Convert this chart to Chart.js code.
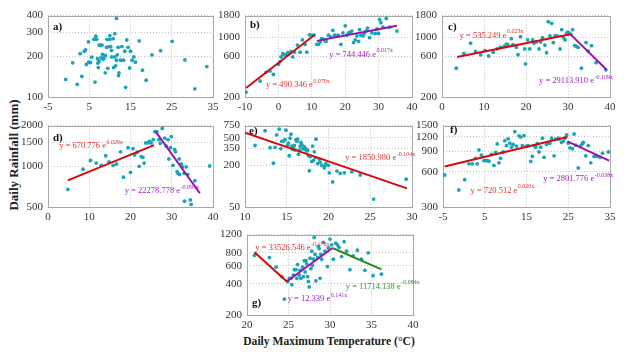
<!DOCTYPE html>
<html><head><meta charset="utf-8">
<script src="https://cdn.jsdelivr.net/npm/chart.js@4.4.1/dist/chart.umd.min.js"></script>
<style>
html,body{margin:0;padding:0;background:#fff;}
#wrap{position:relative;width:628px;height:356px;overflow:hidden;background:#fff;}
#wrap canvas{position:absolute;}
.ttl{position:absolute;font-family:"Liberation Serif","Times New Roman",serif;font-weight:bold;color:#222;white-space:nowrap;}
#ytitle{left:14px;top:155px;font-size:13px;transform:translate(-50%,-50%) rotate(-90deg);}
#xtitle{left:329px;top:341px;font-size:11.6px;transform:translate(-50%,-50%);}
</style></head><body>
<div id="wrap">
<div class="ttl" id="ytitle">Daily Rainfall (mm)</div>
<div class="ttl" id="xtitle">Daily Maximum Temperature (°C)</div>
</div>
<script>
// ---------- DATA ----------
const aTemp=[-0.7,2.1,1.0,3.2,2.8,3.8,4.1,4.3,4.9,4.8,5.3,5.6,6.1,6.4,6.8,6.6,7.0,7.1,7.4,7.2,6.4,7.7,7.4,8.1,7.9,8.2,8.7,8.4,8.9,8.9,9.3,9.2,9.6,9.5,10.0,10.0,10.2,10.4,10.4,10.8,11.2,10.9,11.2,11.6,11.8,12.0,12.2,12.1,11.4,12.6,12.9,13.3,13.6,13.8,14.1,14.4,14.8,15.0,15.4,15.8,16.2,17.1,17.9,18.8,20.2,22.3,25.1,28.2,30.6,33.5,11.6];
const aRain=[135,124,179,142,209,218,223,174,181,256,180,197,267,267,267,282,192,178,184,165,129,242,242,242,195,207,198,190,203,151,267,233,235,163,267,284,236,221,198,270,294,165,198,187,205,233,151,144,170,187,236,187,218,118,264,233,164,218,187,198,181,260,158,133,205,220,258,188,115,168,381];

const bTemp=[-9.7,-5.5,-3.7,-2.5,-1.5,0,0.5,0.8,1.3,1.7,2.3,2.8,3.3,3.8,4.3,4.8,5.7,6.5,7.2,8.0,8.5,9.3,10.0,10.7,11.5,12,12.5,13,13.5,14,14.3,15,15.7,16.3,16.8,17.3,17.9,18.7,19.3,20,20.5,21,21.5,22,22.5,23,23.5,24,24.3,24.7,25.3,25.7,26.2,26.7,27.3,28,29,29.5,30,30.3,30.7,31.3,32.3,33.3,35.5];
const bRain=[228,308,389,403,367,483,518,590,643,626,626,660,650,683,590,670,812,670,933,830,670,1071,1060,1065,830,830,885,966,950,908,900,1060,1010,1209,1060,1040,1060,830,1128,1365,1060,1128,1150,1185,870,933,1040,900,1230,1060,1040,1110,1185,1286,991,1128,1110,1255,1110,1623,1489,1318,1665,1318,1185];

const cTemp=[3.4,5.2,6.8,8.0,9.2,10.2,11.1,12.2,13.1,13.9,14.8,15.3,15.7,16.5,16.9,17.7,18.1,18.7,19.7,19.9,20.4,20.9,21.6,21.9,22.5,23.1,23.5,23.9,24.5,24.9,25.3,25.7,26.1,26.5,26.9,27.4,28.1,28.5,28.9,29.3,29.7,29.9,30.3,30.7,31.1,31.6,32,32.4,33.2,34.3,34.8,35.6,36.7,39];
const cRain=[436,650,855,683,626,700,605,670,732,764,785,834,820,966,820,764,626,1017,732,488,933,732,933,855,885,732,885,991,812,660,1528,1040,1462,870,1040,1040,732,1230,991,933,1110,1150,1128,1085,1230,800,785,764,436,870,690,800,505,417];

const dTemp=[4.8,8.5,10.3,11.7,12.9,14,14.8,15.8,16.6,17.6,18.3,19.4,20,20.6,21,21.6,22.1,22.6,23,23.3,23.7,24.2,24.6,25,25.5,25.9,26.4,26.9,27.2,27.7,28.3,28.7,29.1,29.3,29.7,29.9,30.3,30.7,30.9,31.3,31.5,31.8,31.9,32.3,32.6,33,33.1,33.5,33.9,34.5,34.7,35.6,39.2];
const dRain=[675,953,1104,1057,1016,1197,1080,1016,1040,1279,830,1371,902,1350,1210,1270,1000,1180,1165,1057,1490,1490,1530,1490,1573,1803,1803,1573,1480,1905,1617,1410,1573,1134,1371,1660,1016,1336,1279,912,887,1134,870,1040,989,887,552,989,870,564,522,782,1005];

const eTemp=[11.2,12.4,13,13.4,13.6,13.8,14.1,14.3,14.4,14.6,14.8,14.9,15.1,15.2,15.3,15.4,15.5,15.6,15.7,15.8,15.9,16,16.1,16.2,16.3,16.4,16.5,16.6,16.7,16.8,16.9,17.1,17.2,17.3,17.4,17.5,17.6,17.8,17.7,18,18.1,18.2,18.3,18.4,18.5,18.7,18.9,19,19.2,19.5,19.6,19.7,20,20.1,20.5,21,21.4,21.9,22.8,23.8,25.4,29.3];
const eRain=[387,632,359,215,363,550,667,348,445,448,469,645,391,420,275,494,562,380,340,359,387,332,469,445,478,290,332,380,430,400,348,371,340,348,323,330,275,267,167,227,380,234,313,257,478,211,247,222,200,184,200,211,200,156,115,165,153,156,161,145,65,126];

const fTemp=[-4.6,-1.2,0.2,1.2,2,2.8,3.2,3.6,4.2,4.8,5.2,5.6,6,6.6,7.2,7.6,8,8.4,8.8,9.4,9.8,10.2,10.6,11,11.4,11.8,12.2,12.6,13.2,13.6,14,14.4,15,15.4,16,16.4,16.8,17.2,17.6,18,18.4,18.8,19.2,19.8,20.2,20.6,21,21.6,22,22.6,22.8,23.4,23.8,24.2,24.6,25,25.4,26,26.4,26.8,27.4,28,28.4,28.6,29.2,29.8,30.4,31.2,31.8,32.6,33.2,34.6];
const fRain=[565,420,514,704,704,785,704,927,835,751,751,751,742,850,683,881,1044,719,785,890,1113,1011,1156,1060,980,1033,1331,1000,1225,1196,1011,1230,1000,1011,738,816,1011,980,1050,890,980,1170,801,1033,1077,1060,1170,826,1150,1170,1150,1077,1100,1170,1246,1060,967,950,1270,1019,650,1011,1050,1077,826,1011,719,816,816,801,870,890];

const gTemp=[20.9,22.7,23.5,24.2,24.5,24.9,25.1,25.3,25.4,25.6,25.7,25.9,26,26.1,26.3,26.4,26.5,26.7,26.8,26.9,27,27.1,27.2,27.3,27.4,27.5,27.6,27.7,27.8,27.9,28,28.1,28.2,28.3,28.5,28.6,28.7,28.8,28.9,29,29.2,29.4,29.7,29.8,30,30.2,30.4,30.7,30.9,31.1,31.4,31.7,32,32.4,32.8,33.3,33.8,34.2,34.6,35.2,36.2];
const gRain=[756,719,581,470,285,422,453,453,393,486,549,549,453,615,486,541,453,581,470,670,522,670,624,470,422,374,709,561,829,602,694,1126,773,428,719,922,877,453,773,694,1011,829,589,890,1087,956,694,990,956,903,735,1026,829,549,745,847,694,541,800,480,497];

// fitted trend line end points (temperature, rainfall)
const bFitRedT=[-9.7,10.8],   bFitRedR=[255,1065];
const bFitPurT=[11.5,35.5],   bFitPurR=[910,1365];
const cFitRedT=[3.6,30.6],    cFitRedR=[590,1085];
const cFitPurT=[30.6,39.2],   cFitPurR=[1085,417];
const dFitRedT=[4.8,25.7],    dFitRedR=[787,1433];
const dFitPurT=[26.1,36.8],   dFitPurR=[1803,632];
const eFitRedT=[10,29.4],     eFitRedR=[593,93];
const fFitRedT=[-4.6,24.8],   fFitRedR=[669,1196];
const fFitPurT=[24.8,34.8],   fFitPurR=[1099,751];
const gFitRedT=[20.9,24.8],   gFitRedR=[811,422];
const gFitPurT=[24.8,30.3],   gFitPurR=[422,890];
const gFitGrnT=[30.3,36.2],   gFitGrnR=[890,553];

// tick labels
const xTicksA=[-5,5,15,25,35], yTicksA=[100,200,300,400];
const xTicksB=[-10,0,10,20,30,40], yTicksB=[200,600,1000,1800];
const xTicksC=[0,10,20,30,40], yTicksC=[200,600,1000,1800];
const xTicksD=[0,10,20,30,40], yTicksD=[500,1000,1500,2000];
const xTicksE=[10,15,20,25,30], yTicksE=[50,200,350,500,750];
const xTicksF=[-5,5,15,25,35], yTicksF=[300,600,900,1200,1500];
const xTicksG=[20,25,30,35,40], yTicksG=[200,400,600,800,1200];

// equation texts
const eqText={
 bR:["y = 490.346 e","0.070x"], bP:["y = 744.446 e","0.017x"],
 cR:["y = 535.249 e","0.023x"], cP:["y = 29113.910 e","-0.109x"],
 dR:["y = 670.776 e","0.029x"], dP:["y = 22278.778 e","-0.097x"],
 eR:["y = 1850.980 e","-0.104x"],
 fR:["y = 720.512 e","0.020x"], fP:["y = 2801.776 e","-0.038x"],
 gR:["y = 33526.546 e","-0.176x"], gP:["y = 12.339 e","0.141x"], gG:["y = 11714.138 e","-0.084x"]
};

// ---------- STYLE ----------
const TEAL='#19a5b6', RED='#d60a0a', PUR='#9a0fb0', GRN='#2a8a1e';
const TRED='#e0302c', TPUR='#a020c0', TGRN='#2f8f2f';
const SERIF="'Liberation Serif', 'Times New Roman', serif";
Chart.defaults.font.family=SERIF;

const panels=[
 {lab:'a)',L:48,T:12,R:213,B:97,xMin:-5,xMax:35,yMin:100,yMax:400,xT:xTicksA,yT:yTicksA,t:aTemp,r:aRain,fits:[],eqs:[],labPos:[5,12]},
 {lab:'b)',L:245,T:12,R:412,B:97,xMin:-10,xMax:40,yMin:200,yMax:1800,xT:xTicksB,yT:yTicksB,t:bTemp,r:bRain,
  fits:[[bFitRedT,bFitRedR,RED],[bFitPurT,bFitPurR,PUR]],
  eqs:[[eqText.bR,-3.7,275,TRED],[eqText.bP,15.2,626,TPUR]],labPos:[5,10]},
 {lab:'c)',L:442,T:12,R:610,B:97,xMin:0,xMax:40,yMin:200,yMax:1800,xT:xTicksC,yT:yTicksC,t:cTemp,r:cRain,
  fits:[[cFitRedT,cFitRedR,RED],[cFitPurT,cFitPurR,PUR]],
  eqs:[[eqText.cR,4.2,1054,TRED],[eqText.cP,23.1,308,TPUR]],labPos:[6,12]},
 {lab:'d)',L:48,T:122,R:213,B:207,xMin:0,xMax:40,yMin:500,yMax:2000,xT:xTicksD,yT:yTicksD,t:dTemp,r:dRain,
  fits:[[dFitRedT,dFitRedR,RED],[dFitPurT,dFitPurR,PUR]],
  eqs:[[eqText.dR,2.7,1410,TRED],[eqText.dP,18.6,657,TPUR]],labPos:[5,13]},
 {lab:'e)',L:245,T:122,R:412,B:207,xMin:10,xMax:30,yMin:50,yMax:750,xT:xTicksE,yT:yTicksE,t:eTemp,r:eRain,
  fits:[[eFitRedT,eFitRedR,RED]],
  eqs:[[eqText.eR,22,253,TRED]],labPos:[4,6]},
 {lab:'f)',L:443,T:122,R:610,B:207,xMin:-5,xMax:35,yMin:300,yMax:1500,xT:xTicksF,yT:yTicksF,t:fTemp,r:fRain,
  fits:[[fFitRedT,fFitRedR,RED],[fFitPurT,fFitPurR,PUR]],
  eqs:[[eqText.fR,1.6,417,TRED],[eqText.fP,19,520,TPUR]],labPos:[7,5]},
 {lab:'g)',L:247,T:231,R:413,B:315,xMin:20,xMax:40,yMin:200,yMax:1200,xT:xTicksG,yT:yTicksG,t:gTemp,r:gRain,
  fits:[[gFitRedT,gFitRedR,RED],[gFitPurT,gFitPurR,PUR],[gFitGrnT,gFitGrnR,GRN]],
  eqs:[[eqText.gR,21,891,TRED],[eqText.gP,24.9,285,TPUR],[eqText.gG,31.9,374,TGRN]],labPos:[5,-12]}
];

const wrap=document.getElementById('wrap');
const PADL=40,PADT=8,PADR=14,PADB=18;

function makePanel(p){
  const c=document.createElement('canvas');
  const w=(p.R-p.L)+PADL+PADR, h=(p.B-p.T)+PADT+PADB;
  c.width=w;c.height=h;
  c.style.left=(p.L-PADL)+'px';c.style.top=(p.T-PADT)+'px';
  c.style.width=w+'px';c.style.height=h+'px';
  wrap.appendChild(c);
  const datasets=[];
  p.fits.forEach(f=>datasets.push({type:'scatter',showLine:true,data:f[0].map((v,i)=>({x:v,y:f[1][i]})),
     borderColor:f[2],borderWidth:2,pointRadius:0,fill:false,order:0}));
  datasets.push({type:'scatter',data:p.t.map((v,i)=>({x:v,y:p.r[i]})),backgroundColor:TEAL,borderWidth:0,pointRadius:1.9,order:1});
  const tickFont={family:SERIF,size:11,weight:'normal'};
  const gridOpts={color:'#c4c4c4',lineWidth:1,drawTicks:false};
  const deco={
    id:'deco',
    beforeDatasetsDraw(chart){
      const a=chart.chartArea,ctx=chart.ctx;
      ctx.save();ctx.strokeStyle='#a8a8a8';ctx.lineWidth=1;
      ctx.strokeRect(Math.round(a.left)+0.5,Math.round(a.top)+0.5,Math.round(a.right-a.left),Math.round(a.bottom-a.top));
      ctx.restore();
    },
    afterDatasetsDraw(chart){
      const a=chart.chartArea,ctx=chart.ctx,xs=chart.scales.x,ys=chart.scales.y;
      ctx.save();
      p.eqs.forEach(e=>{
        const px=xs.getPixelForValue(e[1]),py=ys.getPixelForValue(e[2]);
        ctx.fillStyle=e[3];ctx.textBaseline='middle';ctx.textAlign='left';
        ctx.font='8.5px '+SERIF;
        ctx.fillText(e[0][0],px,py);
        const wm=ctx.measureText(e[0][0]).width;
        ctx.font='6px '+SERIF;
        ctx.fillText(e[0][1],px+wm+0.5,py-4);
      });
      ctx.fillStyle='#111';ctx.font='bold 11px '+SERIF;ctx.textBaseline='middle';ctx.textAlign='left';
      const ly=p.labPos[1]>=0?a.top+p.labPos[1]:a.bottom+p.labPos[1];
      ctx.fillText(p.lab,a.left+p.labPos[0],ly);
      ctx.restore();
    }
  };
  new Chart(c,{type:'scatter',data:{datasets},
    options:{responsive:false,animation:false,devicePixelRatio:1,
      layout:{padding:{left:0,top:PADT,right:PADR,bottom:0}},
      plugins:{legend:{display:false},tooltip:{enabled:false}},
      scales:{
        x:{type:'linear',min:p.xMin,max:p.xMax,
           afterBuildTicks:s=>{s.ticks=p.xT.map(v=>({value:v}));},
           afterFit:s=>{s.height=PADB;},
           grid:gridOpts,border:{display:false,dash:[1,2]},
           ticks:{font:tickFont,color:'#333',padding:4,maxRotation:0,autoSkip:false,callback:v=>String(v)}},
        y:{type:'logarithmic',min:p.yMin,max:p.yMax,
           afterBuildTicks:s=>{s.ticks=p.yT.map(v=>({value:v}));},
           afterFit:s=>{s.width=PADL;},
           grid:gridOpts,border:{display:false,dash:[1,2]},
           ticks:{font:tickFont,color:'#333',padding:5,autoSkip:false,callback:v=>String(v)}}
      }},
    plugins:[deco]});
}
panels.forEach(makePanel);
</script>
</body></html>
